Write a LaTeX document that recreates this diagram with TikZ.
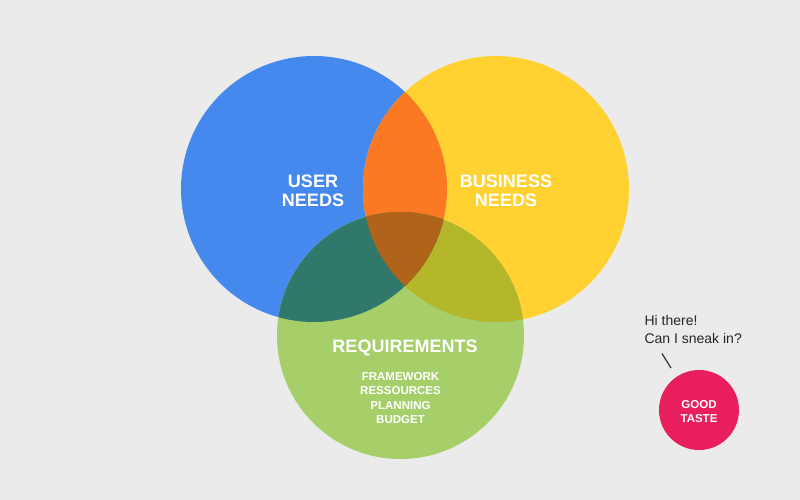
\documentclass[tikz,border=0pt]{standalone}
\usepackage{fontspec}
\setmainfont{Liberation Sans}
\definecolor{bg}{HTML}{EBEBEB}
\definecolor{cblue}{HTML}{4689EE}
\definecolor{cyellow}{HTML}{FFD232}
\definecolor{cgreen}{HTML}{A6CF6A}
\definecolor{corange}{HTML}{FB7922}
\definecolor{cteal}{HTML}{2F786A}
\definecolor{colive}{HTML}{B4B72A}
\definecolor{cbrown}{HTML}{AF6419}
\definecolor{cpink}{HTML}{E91E5C}
\tikzset{
  bigtxt/.style={text=white, font=\bfseries\fontsize{18}{19.5}\selectfont, align=center},
  smalltxt/.style={text=white, font=\bfseries\fontsize{11.5}{14.3}\selectfont, align=center},
  talk/.style={text=black!85, font=\fontsize{14}{18}\selectfont, align=left},
}
\begin{document}
\begin{tikzpicture}[x=1pt,y=-1pt]
\fill[bg] (0,0) rectangle (800,500);
\useasboundingbox (0,0) rectangle (800,500);
\def\cb{(314,189) circle (133)}
\def\cy{(496,189) circle (133)}
\def\cg{(400.5,335.5) circle (123.5)}
\fill[cblue] \cb;
\fill[cyellow] \cy;
\fill[cgreen] \cg;
\begin{scope}
  \clip \cy;
  \fill[colive] \cg;
\end{scope}
\begin{scope}
  \clip \cb;
  \fill[corange] \cy;
  \fill[cteal] \cg;
  \clip \cy;
  \fill[cbrown] \cg;
\end{scope}
\node[bigtxt] (user) at (313,191) {USER\\NEEDS};
\node[bigtxt] (biz) at (506,191) {BUSINESS\\NEEDS};
\node[bigtxt] (req) at (405,348) {REQUIREMENTS};
\node[smalltxt] (list) at (400.5,398) {FRAMEWORK\\RESSOURCES\\PLANNING\\BUDGET};
\node[circle, fill=cpink, minimum size=80pt, inner sep=0pt] (good) at (699,410) {};
\node[text=white, font=\bfseries\fontsize{11.5}{13.5}\selectfont, align=center] (gt) at (699,411.5) {GOOD\\TASTE};
\node[talk, anchor=west] (hi) at (641,329.5) {Hi there!\\Can I sneak in?};
\coordinate (l1) at (662,353.5);
\coordinate (l2) at (671,368);
\draw[black!80, line width=1.2pt] (l1) -- (l2);
\end{tikzpicture}
\end{document}
